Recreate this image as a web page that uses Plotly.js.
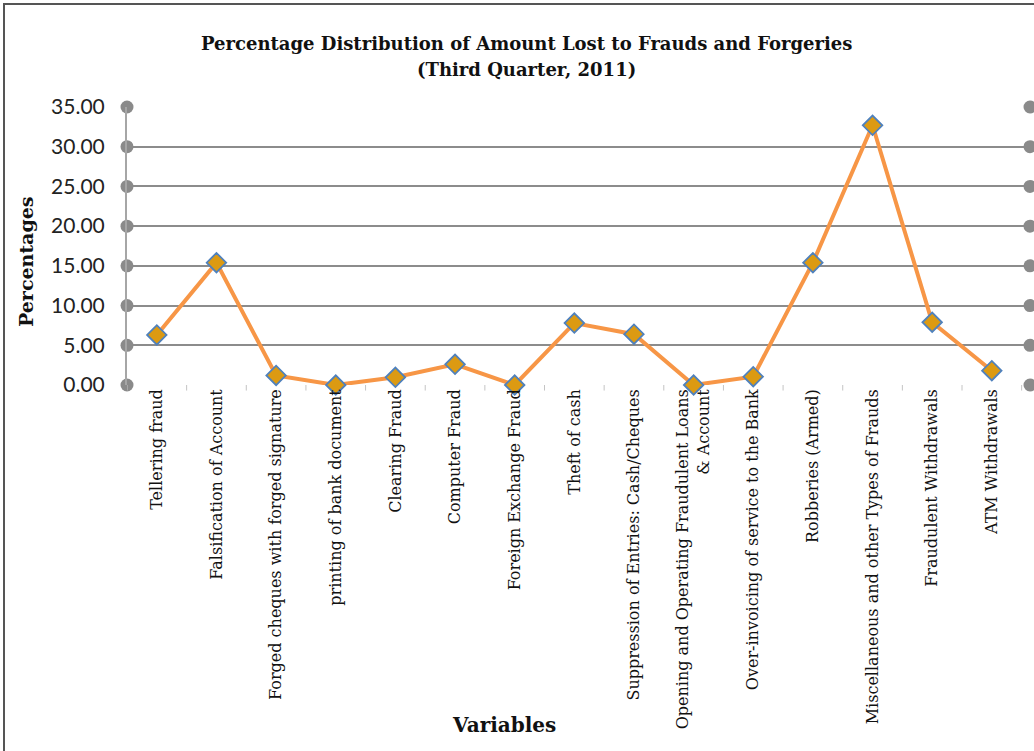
<!DOCTYPE html>
<html>
<head>
<meta charset="utf-8">
<script src="https://cdn.plot.ly/plotly-3.0.1.min.js"></script>
<style>
html,body{margin:0;padding:0;background:#fff;}
#wrap{position:relative;width:1034px;height:751px;overflow:hidden;}
#frame{position:absolute;left:3px;top:3px;width:1040px;height:760px;border-left:2px solid #555;border-top:2px solid #555;pointer-events:none;}
#chart{width:1034px;height:751px;}
</style>
</head>
<body>
<div id="wrap"><div id="chart"></div><div id="frame"></div></div>
<script>
const categories = [
  "Tellering fraud",
  "Falsification of Account",
  "Forged cheques with forged signature",
  "printing of bank document",
  "Clearing Fraud",
  "Computer Fraud",
  "Foreign Exchange Fraud",
  "Theft of cash",
  "Suppression of Entries: Cash/Cheques",
  "Opening and Operating Fraudulent Loans<br>& Account",
  "Over-invoicing of service to the Bank",
  "Robberies (Armed)",
  "Miscellaneous and other Types of Frauds",
  "Fraudulent Withdrawals",
  "ATM Withdrawals"
];
const percentages = [6.3, 15.4, 1.2, 0.0, 0.97, 2.6, 0.0, 7.8, 6.4, 0.0, 1.05, 15.4, 32.7, 7.9, 1.8];
const yTicks = [0, 5, 10, 15, 20, 25, 30, 35];
const yTickLabels = ["0.00", "5.00", "10.00", "15.00", "20.00", "25.00", "30.00", "35.00"];
const titleLines = ["Percentage Distribution of Amount Lost to Frauds and Forgeries", "(Third Quarter, 2011)"];

const idx = categories.map((_, i) => i);
const xMin = -0.5, xMax = 14.64;

const serif = "DejaVu Serif, Liberation Serif, serif";
const W = 1034, L = 127, R = 4, T = 107, B = 366;
const pw = W - L - R, ph = 751 - T - B;
const px = x => (x - L) / pw;
const py = y => (751 - B - y) / ph;

const traces = [
  {
    x: yTicks.map(() => xMin), y: yTicks, type: "scatter", mode: "markers",
    marker: {color: "#8a8a8a", size: 13}, cliponaxis: false, hoverinfo: "skip", showlegend: false
  },
  {
    x: yTicks.map(() => xMax), y: yTicks, type: "scatter", mode: "markers",
    marker: {color: "#8a8a8a", size: 13}, cliponaxis: false, hoverinfo: "skip", showlegend: false
  },
  {
    x: idx, y: percentages, type: "scatter", mode: "lines+markers",
    line: {color: "#F79646", width: 4},
    marker: {symbol: "diamond", size: 15, color: "#DC9A12", line: {color: "#4F81BD", width: 1.8}},
    cliponaxis: false, showlegend: false
  }
];

const layout = {
  width: W, height: 751,
  margin: {l: L, r: R, t: T, b: B},
  paper_bgcolor: "#fff", plot_bgcolor: "#fff",
  xaxis: {
    range: [xMin, xMax],
    tickmode: "array", tickvals: idx, ticktext: categories,
    tickangle: -90,
    tickfont: {family: serif, size: 16, color: "#111"},
    showgrid: false, zeroline: false,
    showline: false,
    ticks: "",
    fixedrange: true
  },
  yaxis: {
    range: [0, 35],
    tickmode: "array", tickvals: yTicks, ticktext: yTickLabels,
    tickfont: {family: "Lato, Open Sans, sans-serif", size: 21, color: "#222"},
    showgrid: true, gridcolor: "#8c8c8c", gridwidth: 2,
    zeroline: false,
    showline: true, linecolor: "#a6a6a6", linewidth: 2,
    ticks: "", ticklabelstandoff: 16,
    fixedrange: true
  },
  shapes: idx.concat([idx.length]).map(i => ({
    type: "line", xref: "x", yref: "paper",
    x0: i - 0.5, x1: i - 0.5, y0: 0, y1: -0.02,
    line: {color: "#c4c4c4", width: 1}
  })),
  annotations: [
    {
      text: "<b>" + titleLines[0] + "</b>",
      xref: "paper", yref: "paper", x: px(526), y: py(43),
      xanchor: "center", yanchor: "middle", showarrow: false,
      font: {family: serif, size: 18, color: "#111"}
    },
    {
      text: "<b>" + titleLines[1] + "</b>",
      xref: "paper", yref: "paper", x: px(526), y: py(70),
      xanchor: "center", yanchor: "middle", showarrow: false,
      font: {family: serif, size: 18, color: "#111"}
    },
    {
      text: "<b>Percentages</b>", xref: "paper", yref: "paper",
      x: px(26), y: py(262), xanchor: "center", yanchor: "middle",
      textangle: -90, showarrow: false,
      font: {family: serif, size: 19, color: "#111"}
    },
    {
      text: "<b>Variables</b>", xref: "paper", yref: "paper",
      x: px(504), y: py(725),
      xanchor: "center", yanchor: "middle", showarrow: false,
      font: {family: serif, size: 20, color: "#111"}
    }
  ]
};

Plotly.newPlot("chart", traces, layout, {displayModeBar: false, staticPlot: true});
</script>
</body>
</html>
